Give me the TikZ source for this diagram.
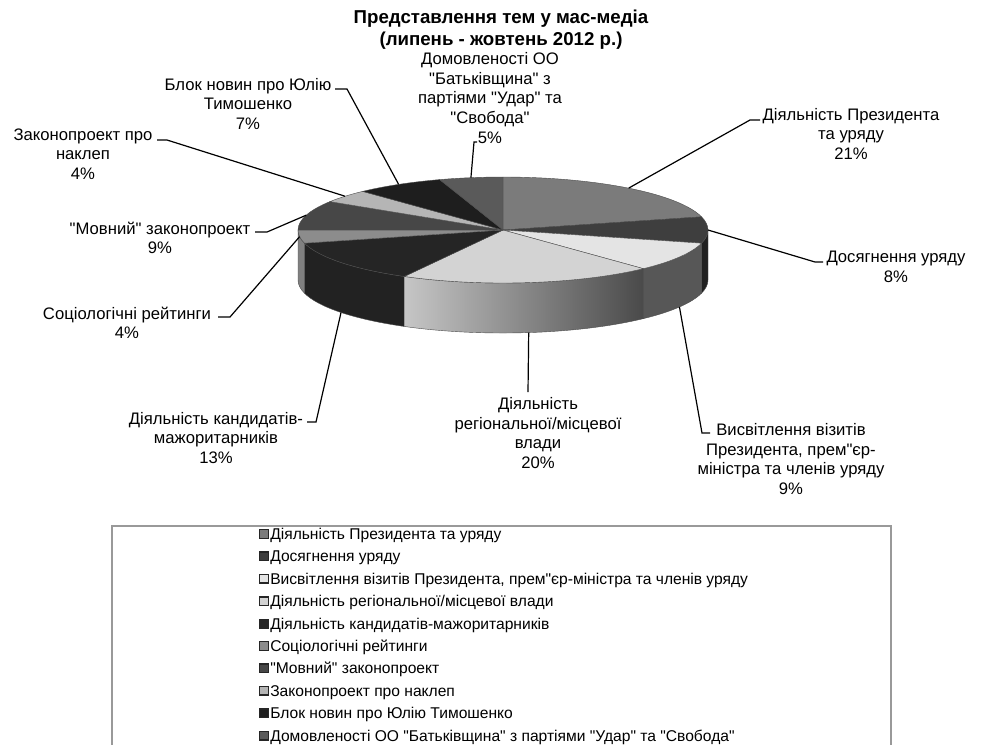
\documentclass[tikz,border=0pt]{standalone}
\usepackage{fontspec}
\setmainfont{Liberation Sans}[Ligatures=TeXOff]
\usepackage{tikz}
\usetikzlibrary{calc}

% slice colours (top faces)
\definecolor{presgray}{HTML}{7B7B7B}
\definecolor{dosgray}{HTML}{3E3E3E}
\definecolor{vysgray}{HTML}{E4E4E4}
\definecolor{reggray}{HTML}{D3D3D3}
\definecolor{kandgray}{HTML}{252525}
\definecolor{socgray}{HTML}{8C8C8C}
\definecolor{movgray}{HTML}{474747}
\definecolor{nakgray}{HTML}{B5B5B5}
\definecolor{blokgray}{HTML}{1E1E1E}
\definecolor{domgray}{HTML}{5A5A5A}
% side walls
\definecolor{dosside}{HTML}{202020}
\definecolor{vysside}{HTML}{575757}
\definecolor{regleft}{HTML}{C6C6C6}
\definecolor{regright}{HTML}{4A4A4A}
\definecolor{kandside}{HTML}{222222}
\definecolor{socside}{HTML}{808080}
\definecolor{legframe}{HTML}{999999}

\begin{document}
\begin{tikzpicture}[
    x=0.75pt, y=0.75pt,
    ttl/.style={align=center, inner sep=0pt, font=\bfseries\fontsize{14}{17}\selectfont},
    lbl/.style={align=center, inner sep=0pt, font=\fontsize{12.5}{14.7}\selectfont},
    leader/.style={draw=black, line width=0.9pt},
    slice/.style={draw=black!70, line width=0.3pt},
    legbox/.style={draw=legframe, line width=1.1pt},
    legmark/.style={draw=black!85, line width=1pt, minimum size=6.4pt, inner sep=0pt},
    legtext/.style={anchor=west, inner sep=0pt, text height=1.6ex, text depth=0.3ex, font=\fontsize{11.7}{14}\selectfont}
]
\useasboundingbox (0,0) rectangle (987,-744);

% Title
\node[ttl] (title) at (501,-29.5) {Представлення тем у мас-медіа\\(липень - жовтень 2012 р.)};

% Pie geometry (radii 205 and 53, depth 50)
\def\rx{205}
\def\ry{53}
\def\dep{50}
\coordinate (c) at (503,-230);
\coordinate (cb) at (503,-280);

% Side walls
\foreach \a/\b/\col in {0/-14.4/dosside, -14.4/-46.8/vysside, -118.8/-165.6/kandside, -165.6/-180/socside}
    \filldraw[slice, fill=\col] ($(c)+(\a:205 and 53)$) arc[start angle=\a, end angle=\b, x radius=\rx, y radius=\ry]
        -- ++(0,-\dep) arc[start angle=\b, end angle=\a, x radius=\rx, y radius=\ry] -- cycle;
\shade[left color=regleft, right color=regright, draw=black!70, line width=0.3pt]
    ($(c)+(-46.8:205 and 53)$) arc[start angle=-46.8, end angle=-118.8, x radius=\rx, y radius=\ry]
    -- ++(0,-\dep) arc[start angle=-118.8, end angle=-46.8, x radius=\rx, y radius=\ry] -- cycle;

% Top faces
\foreach \a/\b/\col in {90/14.4/presgray, 14.4/-14.4/dosgray, -14.4/-46.8/vysgray, -46.8/-118.8/reggray,
        -118.8/-165.6/kandgray, -165.6/-180/socgray, -180/-212.4/movgray, -212.4/-226.8/nakgray,
        -226.8/-252/blokgray, -252/-270/domgray}
    \filldraw[slice, fill=\col] (c) -- ($(c)+(\a:205 and 53)$)
        arc[start angle=\a, end angle=\b, x radius=\rx, y radius=\ry] -- cycle;

% Labels
\node[lbl] (pres_lbl) at (851,-134) {Діяльність Президента\\та уряду\\21\%};
\node[lbl] (dos_lbl) at (896,-267) {Досягнення уряду\\8\%};
\node[lbl] (vys_lbl) at (791,-459) {Висвітлення візитів\\Президента, прем"єр-\\міністра та членів уряду\\9\%};
\node[lbl] (reg_lbl) at (538,-433) {Діяльність\\регіональної/місцевої\\влади\\20\%};
\node[lbl] (kand_lbl) at (216,-438) {Діяльність кандидатів-\\мажоритарників\\13\%};
\node[lbl] (soc_lbl) at (127,-323) {Соціологічні рейтинги\\4\%};
\node[lbl] (mov_lbl) at (160,-238) {"Мовний" законопроект\\9\%};
\node[lbl] (nak_lbl) at (83,-154) {Законопроект про\\наклеп\\4\%};
\node[lbl] (blok_lbl) at (248,-104) {Блок новин про Юлію\\Тимошенко\\7\%};
\node[lbl] (dom_lbl) at (490,-98) {Домовленості ОО\\"Батьківщина" з\\партіями "Удар" та\\"Свобода"\\5\%};

% Leader points on the pie
\coordinate (pres_pt) at ($(c)+(52.2:205 and 53)$);
\coordinate (dos_pt) at ($(c)+(0:205 and 53)$);
\coordinate (vys_pt) at ($(cb)+(-30.6:205 and 53)$);
\coordinate (reg_pt) at ($(cb)+(-82.8:205 and 53)$);
\coordinate (kand_pt) at ($(cb)+(-142.2:205 and 53)$);
\coordinate (soc_pt) at ($(c)+(-172.8:205 and 53)$);
\coordinate (mov_pt) at ($(c)+(163.8:205 and 53)$);
\coordinate (nak_pt) at ($(c)+(140.4:205 and 53)$);
\coordinate (blok_pt) at ($(c)+(120.6:205 and 53)$);
\coordinate (dom_pt) at ($(c)+(99:205 and 53)$);

% Bends and ends of the leaders
\coordinate (pres_k) at (750,-120);  \coordinate (pres_e) at (760,-120);
\coordinate (dos_k) at (815,-262);   \coordinate (dos_e) at (823,-262);
\coordinate (vys_k) at (702,-433);   \coordinate (vys_e) at (710,-433);
\coordinate (reg_k) at (528,-392);
\coordinate (kand_k) at (316,-422);  \coordinate (kand_e) at (307,-422);
\coordinate (soc_k) at (230,-317);   \coordinate (soc_e) at (218,-317);
\coordinate (mov_k) at (267,-232);   \coordinate (mov_e) at (255,-232);
\coordinate (nak_k) at (167,-140);   \coordinate (nak_e) at (157,-140);
\coordinate (blok_k) at (347,-89);   \coordinate (blok_e) at (335,-89);
\coordinate (dom_k) at (474,-142);   \coordinate (dom_e) at (477,-142);

% Leaders
\draw[leader] (pres_pt) -- (pres_k) -- (pres_e);
\draw[leader] (dos_pt) -- (dos_k) -- (dos_e);
\draw[leader] (vys_pt) -- (vys_k) -- (vys_e);
\draw[leader] (reg_pt) -- (reg_k);
\draw[leader] (kand_pt) -- (kand_k) -- (kand_e);
\draw[leader] (soc_pt) -- (soc_k) -- (soc_e);
\draw[leader] (mov_pt) -- (mov_k) -- (mov_e);
\draw[leader] (nak_pt) -- (nak_k) -- (nak_e);
\draw[leader] (blok_pt) -- (blok_k) -- (blok_e);
\draw[leader] (dom_pt) -- (dom_k) -- (dom_e);

% Legend
\coordinate (leg_nw) at (112,-526);
\coordinate (leg_se) at (891,-780);
\draw[legbox] (leg_nw) rectangle (leg_se);
\foreach \txt/\col [count=\i] in {{Діяльність Президента та уряду}/presgray, {Досягнення уряду}/dosgray,
        {Висвітлення візитів Президента, прем"єр-міністра та членів уряду}/vysgray,
        {Діяльність регіональної/місцевої влади}/reggray, {Діяльність кандидатів-мажоритарників}/kandgray,
        {Соціологічні рейтинги}/socgray, {"Мовний" законопроект}/movgray, {Законопроект про наклеп}/nakgray,
        {Блок новин про Юлію Тимошенко}/blokgray,
        {Домовленості ОО "Батьківщина" з партіями "Удар" та "Свобода"}/domgray}
{
    \pgfmathsetmacro\yy{535+22.4*(\i-1)}
    \node[legmark, fill=\col] (mark\i) at (264,-\yy+1) {};
    \node[legtext] (item\i) at (270,-\yy) {\txt};
}

\end{tikzpicture}
\end{document}
